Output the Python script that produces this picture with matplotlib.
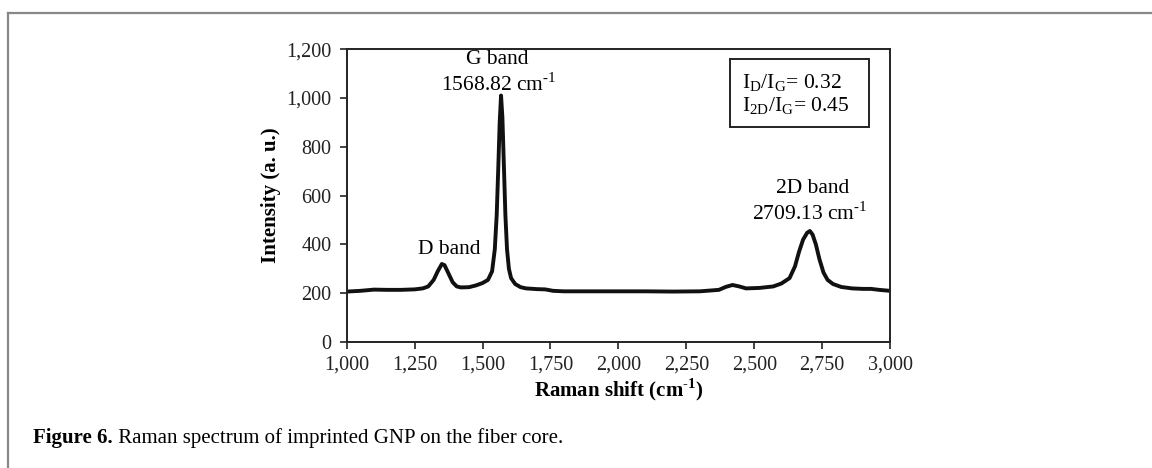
import matplotlib.pyplot as plt
from matplotlib.lines import Line2D

plt.rcParams['font.family'] = 'Liberation Serif'
plt.rcParams['mathtext.fontset'] = 'custom'
plt.rcParams['mathtext.rm'] = 'Liberation Serif'
plt.rcParams['mathtext.bf'] = 'Liberation Serif:bold'

# spectrum (cm-1, a.u.)
shift = [1000, 1050, 1100, 1150, 1200, 1250, 1280, 1300, 1320, 1335, 1350, 1360,
         1375, 1390, 1405, 1420, 1450, 1475, 1500, 1520, 1535, 1545, 1552, 1558,
         1563, 1568, 1573, 1578, 1584, 1590, 1597, 1605, 1620, 1640, 1660, 1700,
         1730, 1760, 1800, 1900, 2000, 2100, 2200, 2300, 2370, 2395, 2420, 2445,
         2470, 2520, 2570, 2600, 2630, 2650, 2665, 2680, 2695, 2705, 2715, 2727,
         2740, 2755, 2770, 2790, 2820, 2860, 2900, 2930, 2960, 3000]
intensity = [207, 210, 215, 214, 214, 216, 220, 228, 255, 290, 320, 315,
             280, 245, 228, 224, 225, 232, 242, 255, 290, 380, 520, 720,
             900, 1010, 920, 740, 520, 380, 300, 262, 238, 225, 220, 217,
             216, 210, 208, 208, 208, 208, 207, 208, 214, 226, 234, 228,
             220, 222, 228, 240, 262, 310, 370, 420, 448, 455, 440, 400,
             340, 285, 255, 238, 226, 220, 218, 218, 214, 210]

xticks = [1000, 1250, 1500, 1750, 2000, 2250, 2500, 2750, 3000]
xticklabels = ['1,000', '1,250', '1,500', '1,750', '2,000', '2,250', '2,500', '2,750', '3,000']
yticks = [0, 200, 400, 600, 800, 1000, 1200]
yticklabels = ['0', '200', '400', '600', '800', '1,000', '1,200']

SUP = r'$^{\mathregular{‐1}}$'   # superscript with a plain hyphen, as in the figure

fig = plt.figure(figsize=(11.52, 4.68), dpi=100)
ax = fig.add_axes([0.301, 0.269, 0.4716, 0.626])

ax.plot(shift, intensity, color='#111111', lw=2.8, solid_joinstyle='round')

ax.set_xlim(1000, 3000)
ax.set_ylim(0, 1200)
ax.set_xticks(xticks)
ax.set_xticklabels(xticklabels)
ax.set_yticks(yticks)
ax.set_yticklabels(yticklabels)
ax.tick_params(direction='out', length=5, width=1.2, labelsize=14.5, colors='#222222')
ax.tick_params(axis='y', pad=6)
ax.tick_params(axis='x', pad=5)
for s in ax.spines.values():
    s.set_linewidth(1.4)
    s.set_color('#222222')

ax.set_xlabel('Raman shift (cm' + SUP + ')', fontsize=15, fontweight='bold', labelpad=1)
ax.set_ylabel('Intensity (a. u.)', fontsize=15, fontweight='bold', labelpad=4)

# peak annotations
ax.text(1555, 1156, 'G band', ha='center', va='center', fontsize=15.5)
ax.text(1560, 1054, '1568.82 cm' + SUP, ha='center', va='center', fontsize=15.5)
ax.text(1378, 380, 'D band', ha='center', va='center', fontsize=15.5)
ax.text(2715, 631, '2D band', ha='center', va='center', fontsize=15.5)
ax.text(2705, 528, '2709.13 cm' + SUP, ha='center', va='center', fontsize=15.5)

# ratio box
ax.add_patch(plt.Rectangle((0.705, 0.733), 0.256, 0.232, transform=ax.transAxes,
                           fill=False, lw=1.4, ec='#222222'))
ax.text(0.727, 0.885, r'I$_{\mathregular{D}}$/I$_{\mathregular{G}}$= 0.32',
        transform=ax.transAxes, va='center', fontsize=15.5)
ax.text(0.727, 0.805, r'I$_{\mathregular{2D}}$/I$_{\mathregular{G}}$= 0.45',
        transform=ax.transAxes, va='center', fontsize=15.5)

# page frame and caption
fig.add_artist(Line2D([8 / 1152, 1], [1 - 13 / 468, 1 - 13 / 468], color='#888888', lw=1.6))
fig.add_artist(Line2D([8 / 1152, 8 / 1152], [0, 1 - 13 / 468], color='#888888', lw=1.6))
cap = fig.text(33 / 1152, 1 - 443 / 468, 'Figure 6.', fontsize=15, fontweight='bold', va='baseline')
plt.annotate(' Raman spectrum of imprinted GNP on the fiber core.', xy=(1, 0), xycoords=cap,
             fontsize=15, va='bottom', annotation_clip=False)

fig.savefig('out.png', dpi=100)
